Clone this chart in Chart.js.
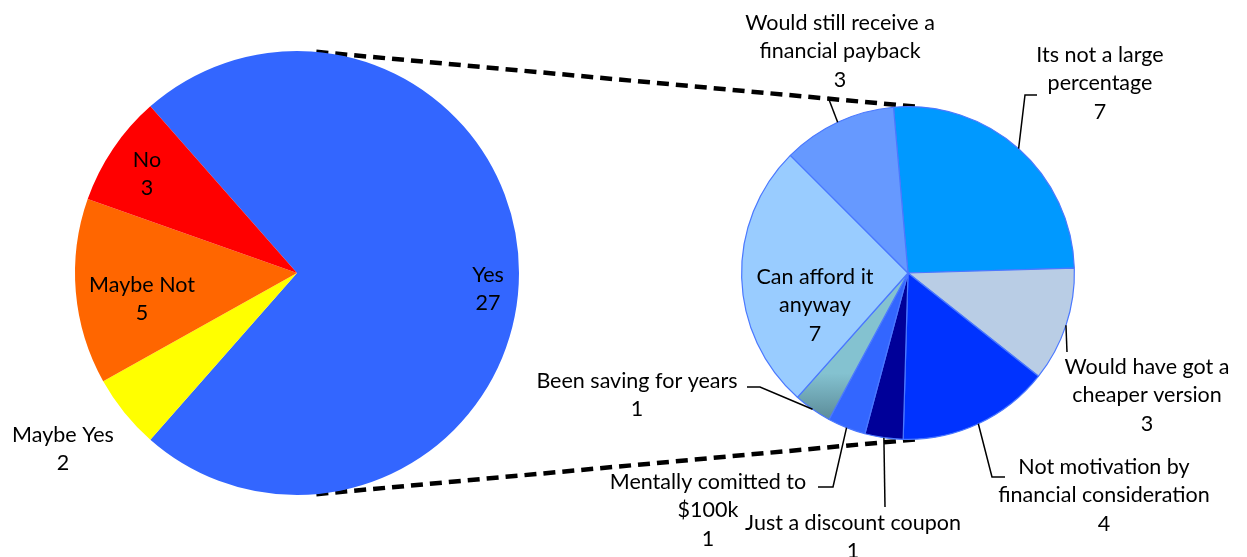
<!DOCTYPE html>
<html>
<head>
<meta charset="utf-8">
<script src="https://cdn.jsdelivr.net/npm/chart.js@4.4.0/dist/chart.umd.min.js"></script>
<style>
  html, body { margin: 0; padding: 0; background: #fff; }
  #wrap { position: relative; width: 1247px; height: 557px; }
  #wrap canvas { position: absolute; left: 0; top: 0; }
</style>
</head>
<body>
<div id="wrap">
  <canvas id="main-pie" width="1247" height="557"></canvas>
  <canvas id="yes-pie" width="1247" height="557"></canvas>
</div>
<script>
// ─── Data ────────────────────────────────────────────────────────────

const mainLabels = ['Yes', 'Maybe Yes', 'Maybe Not', 'No'];
const mainValues = [27, 2, 5, 3];

const yesLabels = [
  'Its not a large percentage',
  'Would have got a cheaper version',
  'Not motivation by financial consideration',
  'Just a discount coupon',
  'Mentally comitted to $100k',
  'Been saving for years',
  'Can afford it anyway',
  'Would still receive a financial payback',
];
const yesValues = [7, 3, 4, 1, 1, 1, 7, 3];

// ─── Styles / layout ─────────────────────────────────────────────────

const mainColors = ['#3366FF', '#FFFF00', '#FF6600', '#FF0000'];
const yesColors = ['#0099FF', '#B9CDE5', '#0033FF', '#000099', '#3366FF', null, '#99CCFF', '#6699FF'];

const FONT = '21.5px Lato, "Open Sans", sans-serif';
const LINE_H = 28.5;

// text centre of first line, wrap width, optional leader points (start is the slice edge)
const mainLayout = [
  { x: 488, y: 275, wrap: 150 },
  { x: 63, y: 435, wrap: 160 },
  { x: 142, y: 285, wrap: 160 },
  { x: 147, y: 160, wrap: 150 },
];
const yesLayout = [
  { x: 1100, y: 55, wrap: 180, leader: [[1025, 95], [1037, 95]] },
  { x: 1147, y: 367, wrap: 215, leader: [[1067, 352]] },
  { x: 1104, y: 467, wrap: 245, leader: [[992, 477], [1005, 477]] },
  { x: 853, y: 523, wrap: 290, leader: [[885, 507]] },
  { x: 708, y: 482, wrap: 240, leader: [[833, 487], [818, 487]] },
  { x: 637, y: 381, wrap: 290, leader: [[760, 387], [747, 387]] },
  { x: 815, y: 277, wrap: 160 },
  { x: 840, y: 23, wrap: 250, leader: [[828, 97]] },
];

const CONNECT_MAIN_DEG = 5;
const CONNECT_YES_DEG = 4;

// ─── Helpers ─────────────────────────────────────────────────────────

function wrapText(ctx, text, maxW) {
  const words = text.split(' ');
  const lines = [];
  let cur = '';
  for (const w of words) {
    const test = cur ? cur + ' ' + w : w;
    if (cur && ctx.measureText(test).width > maxW) {
      lines.push(cur);
      cur = w;
    } else {
      cur = test;
    }
  }
  if (cur) lines.push(cur);
  return lines;
}

function sum(a) { return a.reduce((s, v) => s + v, 0); }

function labelPlugin(layout) {
  return {
    id: 'sliceLabels',
    afterDatasetsDraw(chart) {
      const ctx = chart.ctx;
      const meta = chart.getDatasetMeta(0);
      const values = chart.data.datasets[0].data;
      ctx.save();
      ctx.font = FONT;
      ctx.fillStyle = '#000';
      ctx.strokeStyle = '#000';
      ctx.lineWidth = 1.5;
      ctx.textAlign = 'center';
      ctx.textBaseline = 'middle';
      layout.forEach((l, i) => {
        const arc = meta.data[i];
        if (l.leader) {
          const mid = (arc.startAngle + arc.endAngle) / 2;
          ctx.beginPath();
          ctx.moveTo(arc.x + Math.cos(mid) * arc.outerRadius, arc.y + Math.sin(mid) * arc.outerRadius);
          l.leader.forEach(p => ctx.lineTo(p[0], p[1]));
          ctx.stroke();
        }
        const lines = wrapText(ctx, chart.data.labels[i], l.wrap).concat(String(values[i]));
        lines.forEach((t, k) => ctx.fillText(t, l.x, l.y + k * LINE_H));
      });
      ctx.restore();
    },
  };
}

function pieOptions(padding, rotation) {
  return {
    responsive: false,
    animation: false,
    rotation,
    layout: { padding },
    plugins: {
      legend: { display: false },
      tooltip: { enabled: false },
    },
  };
}

// ─── Second pie (breakdown of "Yes") ─────────────────────────────────

const yesChart = new Chart(document.getElementById('yes-pie').getContext('2d'), {
  type: 'pie',
  data: {
    labels: yesLabels,
    datasets: [{
      data: yesValues,
      backgroundColor: (c) => {
        if (yesColors[c.dataIndex]) return yesColors[c.dataIndex];
        const a = c.chart.chartArea;
        if (!a) return '#6FA3B3';
        const g = c.chart.ctx.createLinearGradient(0, a.top, 0, a.bottom);
        g.addColorStop(0.80, '#84C2D0');
        g.addColorStop(0.93, '#5E8F9C');
        return g;
      },
      borderColor: '#4A78FF',
      borderWidth: 1.2,
    }],
  },
  options: pieOptions({ left: 741, right: 172, top: 106, bottom: 117 }, -5),
  plugins: [labelPlugin(yesLayout)],
});

// ─── Main pie + connector lines ──────────────────────────────────────

const connectorPlugin = {
  id: 'connectors',
  beforeDatasetsDraw(chart) {
    const a = chart.getDatasetMeta(0).data[0];
    const b = yesChart.getDatasetMeta(0).data[0];
    const ta = CONNECT_MAIN_DEG * Math.PI / 180;
    const tb = CONNECT_YES_DEG * Math.PI / 180;
    const ctx = chart.ctx;
    ctx.save();
    ctx.strokeStyle = '#000';
    ctx.lineWidth = 4.5;
    ctx.setLineDash([12, 7]);
    for (const s of [-1, 1]) {
      ctx.beginPath();
      ctx.moveTo(a.x + Math.sin(ta) * a.outerRadius, a.y + s * Math.cos(ta) * a.outerRadius);
      ctx.lineTo(b.x + Math.sin(tb) * b.outerRadius, b.y + s * Math.cos(tb) * b.outerRadius);
      ctx.stroke();
    }
    ctx.restore();
  },
};

const yesShare = mainValues[0] / sum(mainValues) * 360;

new Chart(document.getElementById('main-pie').getContext('2d'), {
  type: 'pie',
  data: {
    labels: mainLabels,
    datasets: [{
      data: mainValues,
      backgroundColor: mainColors,
      borderWidth: 0,
    }],
  },
  options: pieOptions({ left: 75, right: 728, top: 51, bottom: 62 }, 90 - yesShare / 2),
  plugins: [connectorPlugin, labelPlugin(mainLayout)],
});
</script>
</body>
</html>
